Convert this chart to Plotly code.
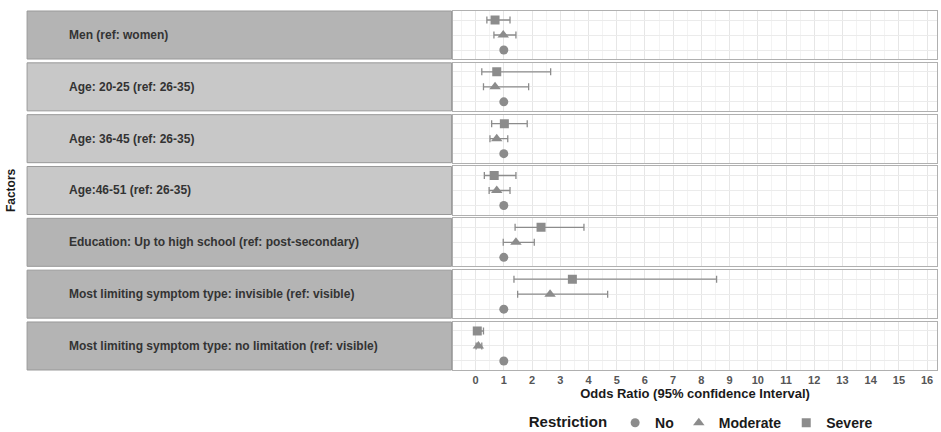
import plotly.graph_objects as go
from plotly.subplots import make_subplots

factors = [
    "Men (ref: women)",
    "Age: 20-25 (ref: 26-35)",
    "Age: 36-45 (ref: 26-35)",
    "Age:46-51 (ref: 26-35)",
    "Education: Up to high school (ref: post-secondary)",
    "Most limiting symptom type: invisible (ref: visible)",
    "Most limiting symptom type: no limitation (ref: visible)",
]
restriction_levels = ["No", "Moderate", "Severe"]

no_or = [1.0, 1.0, 1.0, 1.0, 1.0, 1.0, 1.0]

moderate_or = [0.98, 0.69, 0.75, 0.75, 1.43, 2.64, 0.10]
moderate_lo = [0.65, 0.28, 0.51, 0.48, 0.98, 1.49, 0.02]
moderate_hi = [1.43, 1.88, 1.14, 1.22, 2.08, 4.68, 0.22]

severe_or = [0.69, 0.75, 1.02, 0.66, 2.32, 3.43, 0.06]
severe_lo = [0.40, 0.22, 0.57, 0.31, 1.40, 1.36, 0.02]
severe_hi = [1.22, 2.66, 1.83, 1.43, 3.84, 8.54, 0.28]

strip_dark = [True, False, False, False, True, True, True]
x_ticks = list(range(0, 17))

FONT = "Liberation Sans, Arial, sans-serif"
MARK = "#8c8c8c"
n = len(factors)

fig = make_subplots(rows=n, cols=1, shared_xaxes=True, vertical_spacing=0.0106)

for i in range(n):
    r = i + 1
    first = i == 0
    fig.add_trace(go.Scatter(
        x=[no_or[i]], y=["No"], mode="markers", name="No",
        marker=dict(symbol="circle", size=9, color=MARK),
        showlegend=first, legendgroup="No"), row=r, col=1)
    fig.add_trace(go.Scatter(
        x=[moderate_or[i]], y=["Moderate"], mode="markers", name="Moderate",
        marker=dict(symbol="triangle-up", size=10, color=MARK),
        error_x=dict(type="data", symmetric=False,
                     array=[moderate_hi[i] - moderate_or[i]],
                     arrayminus=[moderate_or[i] - moderate_lo[i]],
                     color=MARK, thickness=1.3, width=3.5),
        showlegend=first, legendgroup="Moderate"), row=r, col=1)
    fig.add_trace(go.Scatter(
        x=[severe_or[i]], y=["Severe"], mode="markers", name="Severe",
        marker=dict(symbol="square", size=9, color=MARK),
        error_x=dict(type="data", symmetric=False,
                     array=[severe_hi[i] - severe_or[i]],
                     arrayminus=[severe_or[i] - severe_lo[i]],
                     color=MARK, thickness=1.3, width=3.5),
        showlegend=first, legendgroup="Severe"), row=r, col=1)

    yname = "y" if r == 1 else f"y{r}"
    fig.update_yaxes(
        row=r, col=1, type="category", categoryorder="array",
        categoryarray=restriction_levels, range=[-0.6, 2.6],
        showticklabels=False, ticks="", showgrid=True, gridcolor="#ebebeb",
        gridwidth=1, zeroline=False, showline=True, linecolor="#b0b0b0",
        linewidth=1, mirror=True, automargin=False)
    fig.update_xaxes(
        row=r, col=1, range=[-0.8, 16.35], tickvals=x_ticks,
        showgrid=True, gridcolor="#e6e6e6", gridwidth=1,
        minor=dict(dtick=0.5, showgrid=True, gridcolor="#f3f3f3", gridwidth=1),
        zeroline=False, showline=True, linecolor="#b0b0b0", linewidth=1,
        mirror=True, showticklabels=(r == n), automargin=False,
        ticks="",
        tickfont=dict(family=FONT, size=11, color="#555555", weight="bold"))

    fig.add_shape(type="rect", xref="paper", yref=f"{yname} domain",
                  x0=-0.880, x1=-0.003, y0=0, y1=1,
                  fillcolor="#b4b4b4" if strip_dark[i] else "#c8c8c8",
                  line=dict(color="#999999", width=1), layer="above")
    fig.add_annotation(xref="paper", yref=f"{yname} domain",
                       x=-0.797, y=0.5, xanchor="left", yanchor="middle",
                       text=factors[i], showarrow=False,
                       font=dict(family=FONT, size=12, color="#333333", weight="bold"))

fig.update_xaxes(row=n, col=1,
                 title=dict(text="Odds Ratio (95% confidence Interval)",
                            font=dict(family=FONT, size=13, color="#1a1a1a", weight="bold"),
                            standoff=3))

fig.add_annotation(xref="paper", yref="paper", x=-0.914, y=0.5,
                   text="Factors", textangle=-90, showarrow=False,
                   xanchor="center", yanchor="middle",
                   font=dict(family=FONT, size=12, color="#1a1a1a", weight="bold"))

fig.update_layout(
    width=941, height=432,
    margin=dict(l=453, r=4, t=11, b=62, autoexpand=False),
    plot_bgcolor="white", paper_bgcolor="white",
    font=dict(family=FONT),
    legend=dict(orientation="h", x=0.515, xanchor="center", y=-0.148, yanchor="middle",
                valign="middle",
                title=dict(text="Restriction", side="left",
                           font=dict(family=FONT, size=15, color="#1a1a1a", weight="bold")),
                font=dict(family=FONT, size=14, color="#1a1a1a", weight="bold"),
                itemwidth=30, tracegroupgap=0),
)

fig.write_html("out.html")
